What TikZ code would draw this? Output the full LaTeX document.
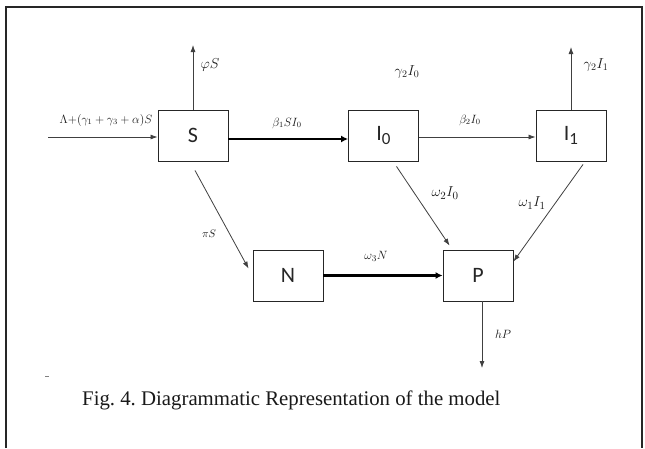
\documentclass[tikz,border=0pt]{standalone}
\usepackage{fontspec}
\setmainfont{Liberation Serif}
\newfontfamily\boxfont{Carlito}
\usetikzlibrary{arrows.meta,calc}
\newcommand{\boxsub}[2]{#1{\fontsize{17}{17}\selectfont\raisebox{-4pt}{#2}}}
\frenchspacing
\begin{document}
\begin{tikzpicture}[x=1pt,y=-1pt,
  comp/.style={draw=black!85, line width=0.9pt, minimum width=70pt, minimum height=51pt, inner sep=0pt, font=\boxfont\fontsize{22}{22}\selectfont, text=black!85},
  flow/.style={draw=black!75, line width=0.8pt, -{Latex[length=7pt,width=5pt]}},
  bigflow/.style={draw=black, line width=2.4pt, -{Latex[length=7pt,width=7pt]}},
  lab/.style={text=black!90, inner sep=0pt},
]
\useasboundingbox (0,0) rectangle (645,448);
\fill[white] (0,0) rectangle (645,448);
\draw[line width=1.5pt, black!85] (6,448) -- (6,7) -- (642,7) -- (642,448);

\node[comp] (S) at (193,135.5) {S};
\node[comp] (I0) at (383.5,135.5) {\boxsub{I}{0}};
\node[comp] (I1) at (571,135.5) {\boxsub{I}{1}};
\node[comp] (N) at (288,275.5) {N};
\node[comp] (P) at (478,275.5) {P};

\coordinate (in) at (48,137);
\coordinate (phi) at (193,45);
\coordinate (g1) at (571,47);
\coordinate (sn0) at ($(S.south)+(2,9)$);
\coordinate (sn1) at ($(N.north west)+(-4,19)$);
\coordinate (ip0) at ($(I0.south)+(13,5)$);
\coordinate (ip1) at ($(P.north west)+(7,-4)$);
\coordinate (jp0) at ($(I1.south)+(12,3)$);
\coordinate (jp1) at ($(P.north east)+(0,12)$);
\coordinate (hp) at (482,368);

\draw[flow] (in) -- (in -| S.west);
\draw[flow] (S.north) -- (phi);
\draw[bigflow] (S.east |- 0,139) -- (I0.west |- 0,139);
\draw[flow] (I0.east |- 0,137) -- (I1.west |- 0,137);
\draw[flow] (I1.north -| g1) -- (g1);
\draw[flow] (sn0) -- (sn1);
\draw[flow] (ip0) -- (ip1);
\draw[flow] (jp0) -- (jp1);
\draw[bigflow] (N.east) -- (P.west);
\draw[flow] (P.south -| hp) -- (hp);

\node[lab, font=\fontsize{11.5}{12}\selectfont] (l1) at (106,120) {$\Lambda{+}(\gamma_1+\gamma_3+\alpha)S$};
\node[lab, font=\fontsize{14}{14}\selectfont] (l2) at (210,65) {$\varphi S$};
\node[lab, font=\fontsize{12}{12}\selectfont] (l3) at (287,123) {$\beta_1 SI_0$};
\node[lab, font=\fontsize{14}{14}\selectfont] (l4) at (407,72) {$\gamma_2I_0$};
\node[lab, font=\fontsize{12}{12}\selectfont] (l5) at (470,120) {$\beta_2I_0$};
\node[lab, font=\fontsize{14}{14}\selectfont] (l6) at (596,65) {$\gamma_2I_1$};
\node[lab, font=\fontsize{11}{11}\selectfont] (l7) at (209,234) {$\pi S$};
\node[lab, font=\fontsize{15}{15}\selectfont] (l8) at (445,193) {$\omega_2I_0$};
\node[lab, font=\fontsize{15}{15}\selectfont] (l9) at (532,203) {$\omega_1I_1$};
\node[lab, font=\fontsize{12.5}{12}\selectfont] (l10) at (376,256) {$\omega_3N$};
\node[lab, font=\fontsize{12}{12}\selectfont] (l11) at (503,334) {$hP$};

\draw[black!50, line width=0.8pt] (45,376) -- (49,376);
\node[anchor=west, inner sep=0pt, font=\fontsize{20.8}{21}\selectfont, text=black!90] (cap) at (82,400) {Fig. 4. Diagrammatic Representation of the model};
\end{tikzpicture}
\end{document}
